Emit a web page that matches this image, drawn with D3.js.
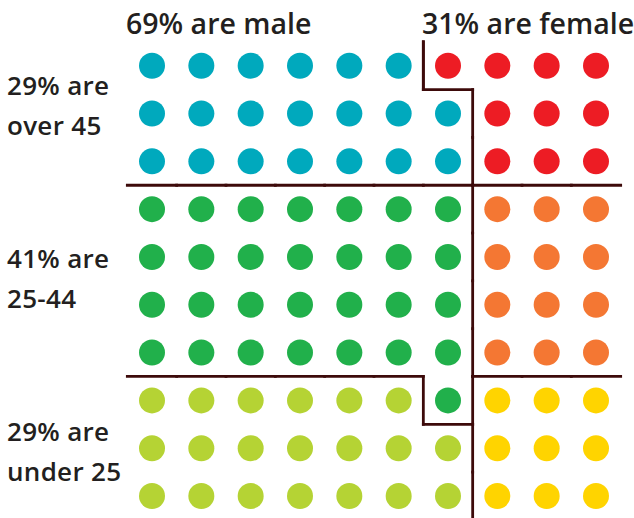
<!DOCTYPE html>
<html>
<head>
<meta charset="utf-8">
<script src="https://cdn.jsdelivr.net/npm/d3@7.9.0/dist/d3.min.js"></script>
<style>
  body { margin: 0; background: #fff; }
  text { font-family: "Open Sans", "Noto Sans", sans-serif; font-weight: 600; fill: #231f20; }
</style>
</head>
<body>
<div id="chart"></div>
<script>
// each cell is one person out of 100; the digit is the group index
const groups = ["over 45 male", "over 45 female", "25-44 male", "25-44 female", "under 25 male", "under 25 female"];
const groupColors = ["#00a9bd", "#ed1c24", "#21b04b", "#f47733", "#b5d334", "#ffd400"];
const grid = [
    "0000001111",
    "0000000111",
    "0000000111",
    "2222222333",
    "2222222333",
    "2222222333",
    "2222222333",
    "4444442555",
    "4444444555",
    "4444444555"
];
const sexLabels = ["69% are male", "31% are female"];
const ageLabels = [["29% are", "over 45"], ["41% are", "25-44"], ["29% are", "under 25"]];
const ageLabelRows = [0.61, 4.23, 7.86];   // grid row where the first line of each label sits

const width = 634, height = 518;

let svg = d3.select("#chart")
    .append("svg")
    .attr("width", width)
    .attr("height", height);

let x = d3.scaleLinear().domain([0, 9]).range([152, 596]);
let y = d3.scaleLinear().domain([0, 9]).range([65.7, 496]);

let cells = [];
grid.forEach((row, r) => {
    row.split("").forEach((g, c) => {
        cells.push({ row: r, col: c, group: +g });
    });
});

svg.append("g")
    .selectAll("circle")
    .data(cells)
    .join("circle")
    .attr("cx", d => x(d.col))
    .attr("cy", d => y(d.row))
    .attr("r", 13)
    .attr("fill", d => groupColors[d.group]);

// divider lines: wherever two neighbouring cells differ in age or sex
let age = g => Math.floor(g / 2);
let sex = g => g % 2;
let segs = [];
let nRows = grid.length, nCols = grid[0].length;
for (let r = 0; r < nRows; r++) {
    for (let c = 0; c < nCols; c++) {
        let g = +grid[r][c];
        if (c < nCols - 1) {
            let h = +grid[r][c + 1];
            if (age(g) !== age(h) || sex(g) !== sex(h))
                segs.push([c + 0.5, r - 0.5, c + 0.5, r + 0.5]);
        }
        if (r < nRows - 1) {
            let h = +grid[r + 1][c];
            if (age(g) !== age(h) || sex(g) !== sex(h))
                segs.push([c - 0.5, r + 0.5, c + 0.5, r + 0.5]);
        }
    }
}
// the male/female divider runs up to the top and down to the bottom
segs.push([5.5, -0.5, 5.5, 0.5]);
segs.push([6.5, 9.5, 6.5, 10]);

svg.append("g")
    .selectAll("line")
    .data(segs)
    .join("line")
    .attr("x1", d => x(d[0]))
    .attr("y1", d => y(d[1]))
    .attr("x2", d => x(d[2]))
    .attr("y2", d => y(d[3]))
    .attr("stroke", "#3d0a0a")
    .attr("stroke-width", 2.8)
    .attr("stroke-linecap", "square");

svg.append("text")
    .attr("x", 126)
    .attr("y", 34)
    .attr("font-size", 28.5)
    .text(sexLabels[0]);

svg.append("text")
    .attr("x", 422)
    .attr("y", 34)
    .attr("font-size", 28.5)
    .text(sexLabels[1]);

ageLabels.forEach((lines, i) => {
    let t = svg.append("text")
        .attr("x", 7)
        .attr("y", y(ageLabelRows[i]))
        .attr("font-size", 26)
        .attr("letter-spacing", 0.3);
    lines.forEach((s, j) => {
        t.append("tspan")
            .attr("x", 7)
            .attr("dy", j === 0 ? 0 : 40)
            .text(s);
    });
});
</script>
</body>
</html>
